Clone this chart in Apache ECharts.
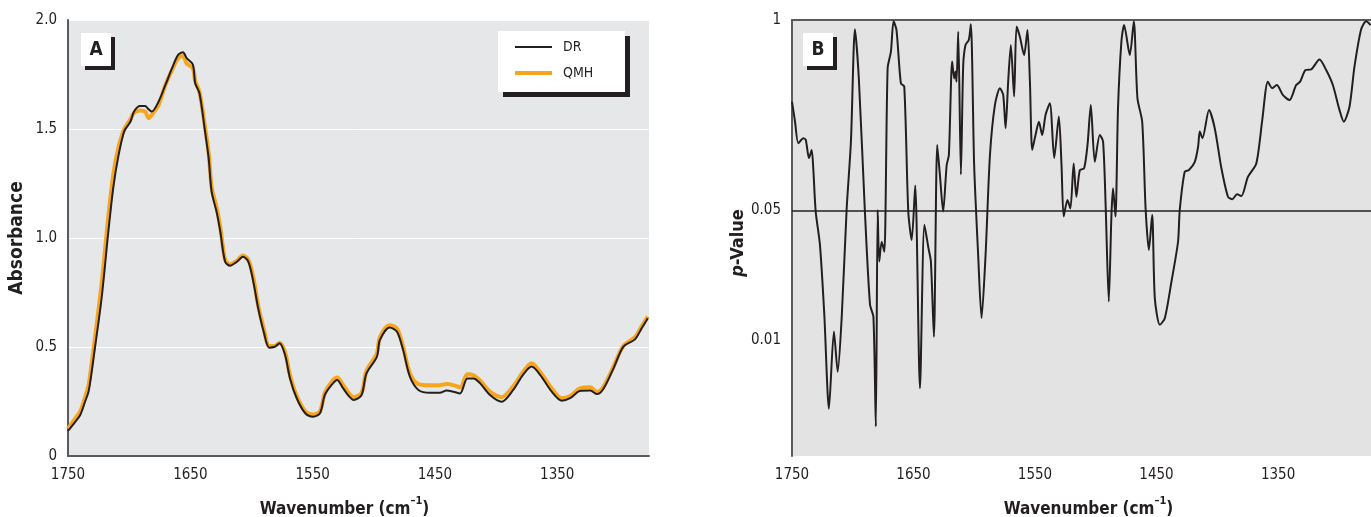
<!DOCTYPE html>
<html>
<head>
<meta charset="utf-8">
<script src="https://cdn.jsdelivr.net/npm/echarts@6/dist/echarts.min.js"></script>
<style>
html,body{margin:0;padding:0;background:#fff;}
#chart{width:1371px;height:517px;}
</style>
</head>
<body>
<div id="chart"></div>
<script>
// ---------- Panel A data ----------
const waveA = [
  1750,1745,1740,1736,1733,1728,1722.5,1717,1713,1709,
  1704,1699,1696,1691,1687,1684,1681.5,1676,1670.5,1665,
  1660,1656,1653,1648,1646,1642.5,1638,1635,1632.5,1628.5,
  1625.5,1621.5,1617.5,1612,1607,1602.5,1598.5,1594.5,1590,1585.5,
  1581,1577,1572.5,1568.5,1563,1556,1549.5,1544,1540,1534.5,
  1530,1525,1520,1516.5,1510,1506,1497.5,1495,1487,1481,
  1476,1470.5,1463.5,1454,1446,1440.5,1435,1429.5,1423.5,1418.5,
  1413,1405,1395.5,1386,1378,1371,1364,1354.5,1346.5,1339.5,
  1331.5,1323,1317.5,1312.5,1304,1296,1286.5,1281,1276
];
const absDR = [
  0.115,0.15,0.188,0.25,0.30,0.495,0.725,1.03,1.23,1.37,
  1.49,1.533,1.58,1.605,1.605,1.59,1.58,1.625,1.70,1.778,
  1.84,1.852,1.825,1.797,1.71,1.664,1.49,1.366,1.21,1.12,
  1.03,0.891,0.873,0.891,0.914,0.891,0.80,0.677,0.57,0.497,
  0.501,0.517,0.463,0.356,0.265,0.196,0.18,0.196,0.28,0.326,
  0.349,0.31,0.272,0.257,0.28,0.379,0.455,0.532,0.59,0.57,
  0.486,0.364,0.303,0.29,0.29,0.30,0.295,0.287,0.356,0.356,
  0.333,0.28,0.249,0.303,0.372,0.41,0.372,0.295,0.254,0.265,
  0.298,0.30,0.284,0.306,0.402,0.501,0.535,0.586,0.632
];
const absQMH = [
  0.125,0.165,0.205,0.27,0.33,0.54,0.79,1.10,1.29,1.41,
  1.50,1.545,1.575,1.585,1.58,1.55,1.565,1.61,1.70,1.77,
  1.825,1.835,1.80,1.78,1.72,1.67,1.51,1.39,1.23,1.14,
  1.05,0.90,0.88,0.895,0.92,0.90,0.82,0.69,0.585,0.505,
  0.505,0.52,0.475,0.37,0.275,0.205,0.19,0.205,0.29,0.34,
  0.36,0.325,0.285,0.27,0.29,0.39,0.47,0.545,0.60,0.585,
  0.50,0.38,0.33,0.325,0.325,0.33,0.325,0.315,0.375,0.37,
  0.345,0.295,0.27,0.32,0.385,0.425,0.385,0.31,0.265,0.275,
  0.31,0.315,0.295,0.315,0.41,0.505,0.545,0.595,0.64
];

// ---------- Panel B data ----------
const waveB = [
  1750,1747.5,1744.8,1740.7,1738.7,1736,1733.8,1732.5,1730.5,1727,
  1723.4,1719.6,1715.5,1712.4,1709,1705,1701.5,1698.2,1695,1690,
  1685.8,1683,1681,1679.5,1678.2,1676.2,1674,1671.3,1668.6,1666.4,
  1664,1660.4,1657.6,1654.3,1651.5,1648.6,1644.7,1641,1637.7,1635.7,
  1633.2,1630.5,1628.3,1625.6,1622.7,1620.9,1618.2,1616.5,1615.4,1614.6,
  1613.2,1611,1609.1,1607.2,1604.5,1602.8,1600.1,1596.8,1594,1590.7,
  1587.1,1583,1578.9,1576.2,1574.2,1572.1,1569.9,1567.2,1565.2,1562.5,
  1559,1556.2,1554.2,1552.3,1549.6,1546.8,1544.1,1541.3,1537.8,1534.2,
  1530.4,1528.2,1526.4,1523.3,1520.9,1518.2,1516,1513.1,1509.6,1506.8,
  1504.1,1500.8,1496.7,1494,1491.8,1489.3,1487.1,1485.8,1483.8,1481.7,
  1478.9,1476.7,1472,1468.7,1465.7,1461.8,1459,1456.3,1453.6,1451.4,
  1447.3,1443.2,1437.7,1432.3,1430.9,1426.8,1423.3,1418.5,1415.8,1414.4,
  1412.2,1406.8,1402.1,1396.6,1391.2,1387.6,1383.8,1380.2,1374.8,1367.9,
  1363,1358.4,1354.8,1351,1346.1,1340.6,1335.1,1331.8,1327.4,1322.7,
  1315.9,1310.4,1304.9,1299.4,1295.9,1291.2,1287.1,1281.6,1277.5,1273.8
];
const pValue = [
  0.225,0.167,0.123,0.132,0.129,0.100,0.112,0.087,0.049,0.032,
  0.0135,0.0045,0.0111,0.0069,0.0135,0.051,0.126,0.78,0.322,0.049,
  0.0153,0.0132,0.00367,0.050,0.026,0.0333,0.0294,0.38,0.505,0.95,
  0.767,0.298,0.283,0.049,0.034,0.069,0.0057,0.0413,0.0307,0.026,
  0.0104,0.120,0.080,0.049,0.091,0.104,0.425,0.322,0.36,0.306,
  0.74,0.080,0.40,0.57,0.626,0.88,0.091,0.0282,0.0130,0.0282,
  0.104,0.214,0.276,0.249,0.152,0.306,0.57,0.243,0.83,0.67,
  0.475,0.767,0.306,0.112,0.138,0.167,0.138,0.185,0.219,0.100,
  0.180,0.091,0.046,0.057,0.051,0.093,0.0595,0.085,0.087,0.120,
  0.214,0.095,0.138,0.126,0.051,0.0159,0.047,0.0665,0.046,0.204,
  0.61,0.861,0.475,0.95,0.236,0.167,0.051,0.030,0.047,0.0165,
  0.0120,0.0130,0.0203,0.0333,0.050,0.083,0.085,0.095,0.117,0.145,
  0.132,0.198,0.152,0.087,0.0595,0.0575,0.0615,0.060,0.0775,0.093,
  0.171,0.306,0.276,0.29,0.249,0.230,0.29,0.306,0.369,0.373,
  0.44,0.369,0.29,0.198,0.167,0.208,0.39,0.78,0.95,0.861
];

// ---------- Tick labels ----------
const xTicks = [1750, 1650, 1550, 1450, 1350];
const pTicks = [1, 0.05, 0.01];
const pTickLabels = ['1', '0.05', '0.01'];
const threshold = 0.05;

// p-value axis transform (non-linear scale of the original figure)
const K = 1.213;
function tr(p) { return Math.pow(Math.max(0, -Math.log10(p)), K); }

const FONT = "'Liberation Sans Narrow','DejaVu Sans Condensed','Roboto Condensed','Liberation Sans',sans-serif";
const INK = '#231f20';
const AXIS = '#5a5b5d';
const ORANGE = '#f7a51c';

const chart = echarts.init(document.getElementById('chart'), null, {renderer: 'canvas'});

function xAxisFor(gridIndex, min, namePadding) {
  return {
    gridIndex: gridIndex, type: 'value', inverse: true, min: min, max: 1750,
    axisLine: {show: true, lineStyle: {color: AXIS, width: 2}},
    axisTick: {show: false},
    splitLine: {show: false},
    axisLabel: {customValues: xTicks, color: INK, fontSize: 15, fontFamily: FONT, margin: 12, formatter: v => String(v)},
    name: '{a|Wavenumber (cm}{s|–1}{a|)}',
    nameLocation: 'middle', nameGap: 40,
    nameTextStyle: {
      padding: namePadding,
      rich: {
        a: {fontSize: 17, fontWeight: 'bold', fontFamily: FONT, color: INK, lineHeight: 22, verticalAlign: 'bottom'},
        s: {fontSize: 11, fontWeight: 'bold', fontFamily: FONT, color: INK, lineHeight: 22, verticalAlign: 'top'}
      }
    }
  };
}

const option = {
  animation: false,
  grid: [
    {left: 68, top: 20, width: 581, height: 436, show: true, backgroundColor: '#e6e7e8', borderWidth: 0,
     containLabel: false, outerBoundsMode: 'none'},
    {left: 792, top: 20, width: 579, height: 436, show: true, backgroundColor: '#e3e3e3', borderWidth: 0,
     containLabel: false, outerBoundsMode: 'none'}
  ],
  xAxis: [
    xAxisFor(0, 1275, [0, 28, 0, 0]),
    xAxisFor(1, 1273.5, [0, 0, 0, 14])
  ],
  yAxis: [
    {
      gridIndex: 0, type: 'value', min: 0, max: 2, interval: 0.5,
      axisLine: {show: true, lineStyle: {color: AXIS, width: 2}},
      axisTick: {show: false},
      splitLine: {show: true, lineStyle: {color: '#ffffff', width: 1}},
      axisLabel: {color: INK, fontSize: 15, fontFamily: FONT, margin: 11,
        formatter: v => v === 0 ? '0' : v.toFixed(1)},
      name: 'Absorbance', nameLocation: 'middle', nameGap: 41,
      nameTextStyle: {fontSize: 19, fontWeight: 'bold', fontFamily: FONT, color: INK}
    },
    {
      gridIndex: 1, type: 'value', min: 0, max: 3.157, inverse: true,
      axisLine: {show: true, lineStyle: {color: AXIS, width: 2}},
      axisTick: {show: false},
      splitLine: {show: false},
      axisLabel: {
        customValues: pTicks.map(tr), color: INK, fontSize: 15, fontFamily: FONT, margin: 11,
        formatter: v => {
          for (let i = 0; i < pTicks.length; i++) {
            if (Math.abs(tr(pTicks[i]) - v) < 1e-6) return pTickLabels[i];
          }
          return '';
        }
      },
      name: '{i|p}{b|-Value}', nameLocation: 'middle', nameGap: 42,
      nameTextStyle: {
        padding: [0, 10, 0, 0],
        rich: {
          i: {fontSize: 18, fontWeight: 'bold', fontStyle: 'italic', fontFamily: FONT, color: INK},
          b: {fontSize: 18, fontWeight: 'bold', fontFamily: FONT, color: INK}
        }
      }
    }
  ],
  legend: {
    left: 498, top: 31, orient: 'vertical',
    padding: [9, 0, 0, 17], itemGap: 12, itemWidth: 37, itemHeight: 14,
    symbolKeepAspect: true, z: 10,
    data: [
      {name: 'DR', icon: 'path://M0,0H37V2H0Z', itemStyle: {color: INK}},
      {name: 'QMH', icon: 'path://M0,0H37V4H0Z', itemStyle: {color: ORANGE}}
    ],
    textStyle: {color: INK, fontSize: 14, lineHeight: 14, fontFamily: FONT, padding: [0, 0, 0, 6]}
  },
  graphic: [
    {type: 'rect', z: 5, shape: {x: 503, y: 36, width: 127, height: 61}, style: {fill: INK}},
    {type: 'rect', z: 6, shape: {x: 498, y: 31, width: 127, height: 61}, style: {fill: '#ffffff'}},
    {type: 'rect', z: 5, shape: {x: 85, y: 37, width: 30, height: 33}, style: {fill: INK}},
    {type: 'rect', z: 6, shape: {x: 81, y: 33, width: 30, height: 33}, style: {fill: '#ffffff'}},
    {type: 'text', z: 7, x: 96, y: 50, style: {text: 'A', font: "bold 19px " + FONT, fill: INK, align: 'center', verticalAlign: 'middle'}},
    {type: 'rect', z: 5, shape: {x: 807, y: 37, width: 30, height: 33}, style: {fill: INK}},
    {type: 'rect', z: 6, shape: {x: 803, y: 33, width: 30, height: 33}, style: {fill: '#ffffff'}},
    {type: 'text', z: 7, x: 818, y: 50, style: {text: 'B', font: "bold 19px " + FONT, fill: INK, align: 'center', verticalAlign: 'middle'}}
  ],
  series: [
    {
      name: 'QMH', type: 'line', xAxisIndex: 0, yAxisIndex: 0, symbol: 'none',
      smooth: 0.3, lineStyle: {color: ORANGE, width: 4}, itemStyle: {color: ORANGE},
      data: waveA.map((w, i) => [w, absQMH[i]])
    },
    {
      name: 'DR', type: 'line', xAxisIndex: 0, yAxisIndex: 0, symbol: 'none',
      smooth: 0.3, lineStyle: {color: INK, width: 2}, itemStyle: {color: INK},
      data: waveA.map((w, i) => [w, absDR[i]])
    },
    {
      name: 'p', type: 'line', xAxisIndex: 1, yAxisIndex: 1, symbol: 'none',
      smooth: 0.25, lineStyle: {color: INK, width: 2}, itemStyle: {color: INK},
      data: waveB.map((w, i) => [w, tr(pValue[i])]),
      markLine: {
        silent: true, symbol: ['none', 'none'], label: {show: false},
        lineStyle: {color: INK, width: 1.5, type: 'solid'},
        data: [{yAxis: tr(threshold)}]
      }
    }
  ]
};
chart.setOption(option);
</script>
</body>
</html>
